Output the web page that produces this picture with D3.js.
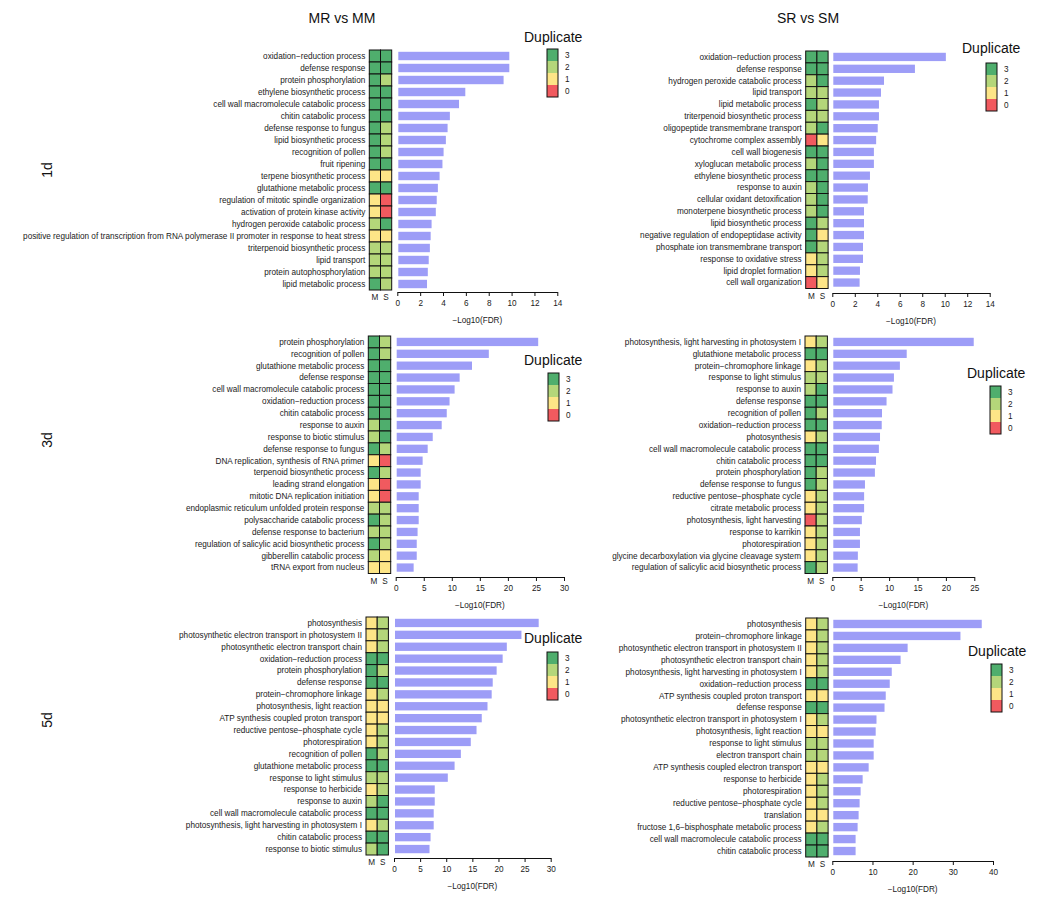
<!DOCTYPE html>
<html>
<head>
<meta charset="utf-8">
<script src="https://cdn.jsdelivr.net/npm/d3@7"></script>
<style>
  body { margin: 0; background: #fff; }
  svg { font-family: "Liberation Sans", Arial, sans-serif; }
</style>
</head>
<body>
<svg id="chart" width="1041" height="902"></svg>
<script>
// ---------------- DATA ----------------
const colTitles = ["MR vs MM", "SR vs SM"];
const rowTitles = ["1d", "3d", "5d"];
const heatCols = ["M", "S"];
const dupLevels = [3, 2, 1, 0];

// Panel 1: MR vs MM, 1d
const p1Terms = ["oxidation−reduction process","defense response","protein phosphorylation","ethylene biosynthetic process","cell wall macromolecule catabolic process","chitin catabolic process","defense response to fungus","lipid biosynthetic process","recognition of pollen","fruit ripening","terpene biosynthetic process","glutathione metabolic process","regulation of mitotic spindle organization","activation of protein kinase activity","hydrogen peroxide catabolic process","positive regulation of transcription from RNA polymerase II promoter in response to heat stress","triterpenoid biosynthetic process","lipid transport","protein autophosphorylation","lipid metabolic process"];
const p1M = [3,3,3,3,3,3,3,3,3,3,1,3,1,1,2,1,2,2,2,3];
const p1S = [3,3,2,3,3,3,2,2,2,3,1,3,0,0,3,1,2,2,2,2];
const p1FDR = [9.8,9.8,9.3,5.95,5.4,4.6,4.4,4.25,4.05,3.95,3.7,3.55,3.45,3.37,3.0,2.92,2.85,2.75,2.67,2.6];

// Panel 2: SR vs SM, 1d
const p2Terms = ["oxidation−reduction process","defense response","hydrogen peroxide catabolic process","lipid transport","lipid metabolic process","triterpenoid biosynthetic process","oligopeptide transmembrane transport","cytochrome complex assembly","cell wall biogenesis","xyloglucan metabolic process","ethylene biosynthetic process","response to auxin","cellular oxidant detoxification","monoterpene biosynthetic process","lipid biosynthetic process","negative regulation of endopeptidase activity","phosphate ion transmembrane transport","response to oxidative stress","lipid droplet formation","cell wall organization"];
const p2M = [3,3,2,2,3,2,2,0,3,2,3,2,2,2,3,3,3,1,1,0];
const p2S = [3,3,3,2,2,2,3,1,3,3,3,3,3,3,2,1,2,2,2,1];
const p2FDR = [10.1,7.35,4.6,4.33,4.15,4.15,4.04,3.9,3.7,3.7,3.35,3.17,3.15,2.82,2.82,2.82,2.73,2.73,2.46,2.43];

// Panel 3: MR vs MM, 3d
const p3Terms = ["protein phosphorylation","recognition of pollen","glutathione metabolic process","defense response","cell wall macromolecule catabolic process","oxidation−reduction process","chitin catabolic process","response to auxin","response to biotic stimulus","defense response to fungus","DNA replication, synthesis of RNA primer","terpenoid biosynthetic process","leading strand elongation","mitotic DNA replication initiation","endoplasmic reticulum unfolded protein response","polysaccharide catabolic process","defense response to bacterium","regulation of salicylic acid biosynthetic process","gibberellin catabolic process","tRNA export from nucleus"];
const p3M = [3,3,3,3,3,3,3,2,2,3,1,3,1,1,2,3,2,3,2,1];
const p3S = [2,2,3,3,3,3,3,3,3,2,0,2,0,0,2,2,2,2,1,1];
const p3FDR = [25.4,16.6,13.6,11.4,10.5,9.6,9.1,8.2,6.6,5.7,4.8,4.45,4.45,4.1,4.1,4.1,3.9,3.75,3.75,3.2];

// Panel 4: SR vs SM, 3d
const p4Terms = ["photosynthesis, light harvesting in photosystem I","glutathione metabolic process","protein−chromophore linkage","response to light stimulus","response to auxin","defense response","recognition of pollen","oxidation−reduction process","photosynthesis","cell wall macromolecule catabolic process","chitin catabolic process","protein phosphorylation","defense response to fungus","reductive pentose−phosphate cycle","citrate metabolic process","photosynthesis, light harvesting","response to karrikin","photorespiration","glycine decarboxylation via glycine cleavage system","regulation of salicylic acid biosynthetic process"];
const p4M = [1,3,1,2,2,3,3,3,1,3,3,3,3,1,1,0,1,1,1,3];
const p4S = [2,3,2,2,3,3,2,3,2,3,3,2,2,2,2,2,2,2,2,2];
const p4FDR = [24.9,13.1,11.9,10.85,10.6,9.55,8.75,8.7,8.4,8.2,7.7,7.5,5.75,5.6,5.6,5.2,4.87,4.87,4.5,4.46];

// Panel 5: MR vs MM, 5d
const p5Terms = ["photosynthesis","photosynthetic electron transport in photosystem II","photosynthetic electron transport chain","oxidation−reduction process","protein phosphorylation","defense response","protein−chromophore linkage","photosynthesis, light reaction","ATP synthesis coupled proton transport","reductive pentose−phosphate cycle","photorespiration","recognition of pollen","glutathione metabolic process","response to light stimulus","response to herbicide","response to auxin","cell wall macromolecule catabolic process","photosynthesis, light harvesting in photosystem I","chitin catabolic process","response to biotic stimulus"];
const p5M = [1,1,1,3,3,3,1,1,1,1,1,3,3,2,1,2,3,1,3,2];
const p5S = [2,2,2,3,2,3,2,1,1,2,2,2,3,2,2,3,3,2,3,3];
const p5FDR = [27.7,24.4,21.6,20.8,19.65,18.9,18.7,17.9,16.8,15.8,14.7,12.8,11.6,10.3,7.8,7.8,7.6,7.6,7.0,6.8];

// Panel 6: SR vs SM, 5d
const p6Terms = ["photosynthesis","protein−chromophore linkage","photosynthetic electron transport in photosystem II","photosynthetic electron transport chain","photosynthesis, light harvesting in photosystem I","oxidation−reduction process","ATP synthesis coupled proton transport","defense response","photosynthetic electron transport in photosystem I","photosynthesis, light reaction","response to light stimulus","electron transport chain","ATP synthesis coupled electron transport","response to herbicide","photorespiration","reductive pentose−phosphate cycle","translation","fructose 1,6−bisphosphate metabolic process","cell wall macromolecule catabolic process","chitin catabolic process"];
const p6M = [1,1,1,1,1,3,1,3,1,1,2,2,1,1,1,1,1,1,3,3];
const p6S = [2,2,2,2,2,3,1,3,2,1,2,2,1,2,2,2,1,2,3,3];
const p6FDR = [37.2,31.9,18.75,17.0,14.8,14.3,13.3,13.0,11.0,10.8,10.3,10.3,9.05,7.55,7.05,6.8,6.55,6.3,5.8,5.8];

const axisMax = [14, 14, 30, 25, 30, 40];
const axisStep = [2, 2, 5, 5, 5, 10];

// ---------------- STYLE / LAYOUT ----------------
const levelColor = d3.scaleOrdinal().domain([0,1,2,3]).range(["#f15a5f","#fde587","#b4d67a","#4fae6d"]);
const barColor = "#9d9df7";
const fs = 8.2;

const panels = [
  {terms:p1Terms, M:p1M, S:p1S, fdr:p1FDR, hx:369.3, top:50, bot:290, x0:397.3, x1:557.3, ay:292, lt:[524,42], lb:[547,49]},
  {terms:p2Terms, M:p2M, S:p2S, fdr:p2FDR, hx:805.7, top:51, bot:288.5, x0:832.3, x1:989.7, ay:293, lt:[962,53], lb:[986,63]},
  {terms:p3Terms, M:p3M, S:p3S, fdr:p3FDR, hx:368.3, top:336, bot:573.5, x0:395.7, x1:564, ay:577, lt:[524,365], lb:[548,373]},
  {terms:p4Terms, M:p4M, S:p4S, fdr:p4FDR, hx:805, top:336, bot:573.5, x0:832.3, x1:974.3, ay:577, lt:[967,378], lb:[990,386]},
  {terms:p5Terms, M:p5M, S:p5S, fdr:p5FDR, hx:366, top:617, bot:855, x0:394, x1:550.7, ay:858, lt:[524,643], lb:[547,652]},
  {terms:p6Terms, M:p6M, S:p6S, fdr:p6FDR, hx:805.7, top:618, bot:857, x0:832.3, x1:993, ay:861, lt:[968,656], lb:[991,664]}
];

const svg = d3.select("#chart");
const cellW = 11.2;

panels.forEach((p, i) => {
  const g = svg.append("g");
  const y = d3.scaleBand().domain(p.terms).range([p.top, p.bot]);
  const yb = d3.scaleBand().domain(p.terms).range([p.top, p.bot]).paddingInner(0.3).paddingOuter(0.15);
  const xc = d3.scaleBand().domain(heatCols).range([p.hx, p.hx + 2*cellW]);
  const x = d3.scaleLinear().domain([0, axisMax[i]]).range([p.x0, p.x1]);

  // term labels
  g.selectAll("text.term").data(p.terms).join("text")
    .attr("class", "term")
    .attr("x", p.hx - 4)
    .attr("y", d => y(d) + y.bandwidth()/2)
    .attr("dy", "0.35em")
    .attr("text-anchor", "end")
    .attr("font-size", fs)
    .attr("fill", "#1a1a1a")
    .text(d => d);

  // heatmap
  const cells = [];
  p.terms.forEach((t, k) => {
    cells.push({t, c:"M", v:p.M[k]});
    cells.push({t, c:"S", v:p.S[k]});
  });
  g.selectAll("rect.cell").data(cells).join("rect")
    .attr("class", "cell")
    .attr("x", d => xc(d.c))
    .attr("y", d => y(d.t))
    .attr("width", xc.bandwidth())
    .attr("height", y.bandwidth())
    .attr("fill", d => levelColor(d.v))
    .attr("stroke", "#111")
    .attr("stroke-width", 1);

  // M / S labels
  g.selectAll("text.hc").data(heatCols).join("text")
    .attr("class", "hc")
    .attr("x", d => xc(d) + xc.bandwidth()/2)
    .attr("y", p.bot + 10)
    .attr("text-anchor", "middle")
    .attr("font-size", fs)
    .attr("fill", "#1a1a1a")
    .text(d => d);

  // bars
  g.selectAll("rect.bar").data(p.terms).join("rect")
    .attr("class", "bar")
    .attr("x", x(0) + 1)
    .attr("y", d => yb(d))
    .attr("width", (d, k) => x(p.fdr[k]) - x(0) - 1)
    .attr("height", yb.bandwidth())
    .attr("fill", barColor);

  // axis
  const ax = g.append("g").attr("transform", `translate(0,${p.ay})`)
    .call(d3.axisBottom(x).tickValues(d3.range(0, axisMax[i] + 0.001, axisStep[i])).tickSize(4).tickSizeOuter(0));
  ax.select(".domain").attr("stroke", "#111").attr("stroke-width", 1);
  ax.selectAll(".tick line").attr("stroke", "#111");
  ax.selectAll(".tick text").attr("font-size", fs).attr("fill", "#1a1a1a").attr("dy", "0.9em")
    .attr("font-family", "Liberation Sans, Arial, sans-serif");

  g.append("text")
    .attr("x", (p.x0 + p.x1)/2)
    .attr("y", p.ay + 31)
    .attr("text-anchor", "middle")
    .attr("font-size", fs)
    .attr("fill", "#1a1a1a")
    .text("−Log10(FDR)");

  // legend
  g.append("text")
    .attr("x", p.lt[0]).attr("y", p.lt[1])
    .attr("font-size", 14).attr("fill", "#111")
    .text("Duplicate");
  const ly = d3.scaleBand().domain(dupLevels).range([p.lb[1], p.lb[1] + 48]);
  g.selectAll("rect.leg").data(dupLevels).join("rect")
    .attr("class", "leg")
    .attr("x", p.lb[0]).attr("y", d => ly(d))
    .attr("width", 11).attr("height", ly.bandwidth())
    .attr("fill", d => levelColor(d));
  g.append("rect").attr("x", p.lb[0]).attr("y", p.lb[1]).attr("width", 11).attr("height", 48)
    .attr("fill", "none").attr("stroke", "#111").attr("stroke-width", 1);
  g.selectAll("text.leg").data(dupLevels).join("text")
    .attr("class", "leg")
    .attr("x", p.lb[0] + 18).attr("y", d => ly(d) + ly.bandwidth()/2)
    .attr("dy", "0.35em")
    .attr("font-size", fs).attr("fill", "#1a1a1a")
    .text(d => d);
});

// column titles
svg.selectAll("text.ct").data(colTitles).join("text")
  .attr("class", "ct")
  .attr("x", (d, i) => [342, 808][i]).attr("y", 23)
  .attr("text-anchor", "middle").attr("font-size", 14).attr("fill", "#111")
  .text(d => d);

// row titles
svg.selectAll("text.rt").data(rowTitles).join("text")
  .attr("class", "rt")
  .attr("transform", (d, i) => `translate(52,${[170, 440, 720][i]}) rotate(-90)`)
  .attr("text-anchor", "middle").attr("font-size", 14).attr("fill", "#111")
  .text(d => d);
</script>
</body>
</html>
